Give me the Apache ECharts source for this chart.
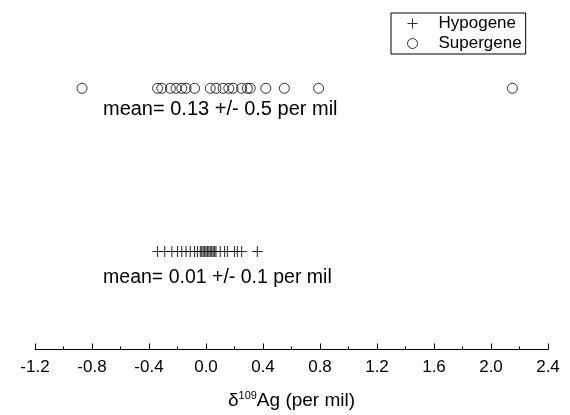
<!DOCTYPE html>
<html>
<head>
<meta charset="utf-8">
<script src="https://cdn.jsdelivr.net/npm/echarts@6/dist/echarts.min.js"></script>
<style>
  html, body { margin: 0; padding: 0; background: #fff; }
  #chart { width: 570px; height: 415px; }
</style>
</head>
<body>
<div id="chart"></div>
<script>
// delta 109Ag values (per mil)
const hypogene = [-0.34, -0.29, -0.24, -0.20, -0.17, -0.14, -0.11, -0.08, -0.06, -0.04,
  -0.03, -0.02, -0.01, 0.0, 0.01, 0.02, 0.03, 0.04, 0.05, 0.06, 0.07, 0.10, 0.13,
  0.15, 0.20, 0.22, 0.25, 0.36];
const supergene = [-0.87, -0.34, -0.31, -0.25, -0.21, -0.17, -0.14, -0.08, 0.03, 0.07,
  0.12, 0.16, 0.19, 0.25, 0.29, 0.31, 0.42, 0.55, 0.79, 2.15];
const seriesNames = ['Hypogene', 'Supergene'];
const meanLabels = ['mean= 0.01 +/- 0.1 per mil', 'mean= 0.13 +/- 0.5 per mil'];
// vertical row of each group (hidden y axis)
const rowY = [0.6, 1.6];

const FONT = 'Liberation Sans, Arial, sans-serif';
const PLUS = 'path://M0,4.5L10,4.5L10,5.5L0,5.5Z M4.5,0L5.5,0L5.5,10L4.5,10Z';

const chart = echarts.init(document.getElementById('chart'));

const option = {
  animation: false,
  backgroundColor: '#fff',
  textStyle: { fontFamily: FONT, color: '#000' },
  grid: { left: 35, right: 22, top: 23, bottom: 61 },
  legend: {
    orient: 'vertical',
    left: 391,
    top: 13,
    data: seriesNames,
    borderColor: '#000',
    borderWidth: 1,
    borderRadius: 0,
    padding: [2, 4, 2, 16],
    itemGap: 3,
    itemWidth: 10,
    itemHeight: 10,
    itemStyle: { borderWidth: 1 },
    textStyle: { fontFamily: FONT, fontSize: 17, color: '#000', padding: [0, 0, 0, 16] },
  },
  xAxis: {
    type: 'value',
    min: -1.2,
    max: 2.4,
    interval: 0.4,
    name: '{d|δ}{s|109}{d|Ag (per mil)}',
    nameLocation: 'middle',
    nameGap: 41,
    nameTextStyle: {
      rich: {
        d: { fontFamily: FONT, fontSize: 19, color: '#000' },
        s: { fontFamily: FONT, fontSize: 11, color: '#000', verticalAlign: 'bottom', padding: [0, 0, 9, 0] },
      },
    },
    axisLine: { onZero: false, lineStyle: { color: '#000', width: 1 } },
    axisTick: { inside: true, length: 6, lineStyle: { color: '#000' } },
    minorTick: { show: true, splitNumber: 2, length: 3, lineStyle: { color: '#000' } },
    splitLine: { show: false },
    axisLabel: {
      fontFamily: FONT,
      fontSize: 17,
      color: '#000',
      margin: 9,
      formatter: (v) => v.toFixed(1),
    },
  },
  yAxis: {
    type: 'value',
    min: 0,
    max: 2,
    show: false,
  },
  series: [
    {
      name: seriesNames[0],
      type: 'scatter',
      symbol: PLUS,
      symbolSize: 11,
      itemStyle: { color: '#000' },
      data: hypogene.map((v) => [v, rowY[0]]),
      markPoint: {
        symbol: 'rect',
        symbolSize: 0,
        label: {
          show: true,
          formatter: meanLabels[0],
          fontFamily: FONT,
          fontSize: 19.5,
          color: '#000',
          position: 'inside',
        },
        data: [{ coord: [0.08, rowY[0] - 0.16] }],
      },
    },
    {
      name: seriesNames[1],
      type: 'scatter',
      symbol: 'circle',
      symbolSize: 10,
      itemStyle: { color: 'rgba(0,0,0,0)', borderColor: '#000', borderWidth: 1 },
      data: supergene.map((v) => [v, rowY[1]]),
      markPoint: {
        symbol: 'rect',
        symbolSize: 0,
        label: {
          show: true,
          formatter: meanLabels[1],
          fontFamily: FONT,
          fontSize: 20,
          color: '#000',
          position: 'inside',
        },
        data: [{ coord: [0.1, rowY[1] - 0.13] }],
      },
    },
  ],
};

chart.setOption(option);
</script>
</body>
</html>
